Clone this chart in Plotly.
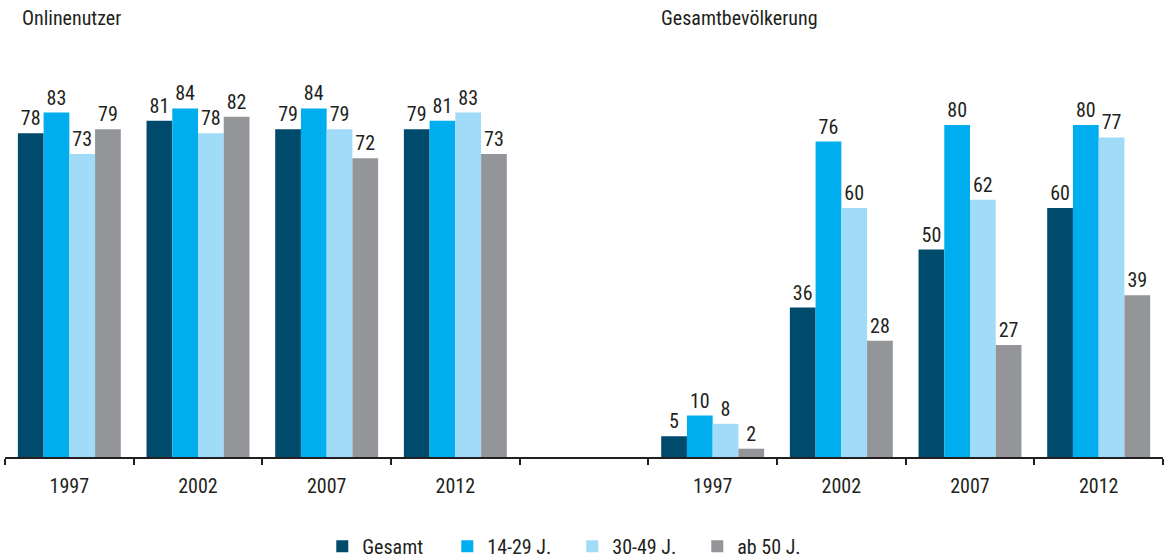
import plotly.graph_objects as go

years = ["1997", "2002", "2007", "2012"]
series_names = ["Gesamt", "14-29 J.", "30-49 J.", "ab 50 J."]
online_values = {
    "Gesamt": [78, 81, 79, 79],
    "14-29 J.": [83, 84, 84, 81],
    "30-49 J.": [73, 78, 79, 83],
    "ab 50 J.": [79, 82, 72, 73],
}
total_values = {
    "Gesamt": [5, 36, 50, 60],
    "14-29 J.": [10, 76, 80, 80],
    "30-49 J.": [8, 60, 62, 77],
    "ab 50 J.": [2, 28, 27, 39],
}
colors = {
    "Gesamt": "#004a6b",
    "14-29 J.": "#00aeef",
    "30-49 J.": "#a0dcf7",
    "ab 50 J.": "#939598",
}
group_titles = ["Onlinenutzer", "Gesamtbevölkerung"]

FONT = "Roboto Condensed, Liberation Sans Narrow, DejaVu Sans Condensed, Arial Narrow, sans-serif"
TXT = "#231f20"

cats = ["O" + y for y in years] + ["gap"] + ["G" + y for y in years]
ticktext = years + [""] + years

fig = go.Figure()
for name in series_names:
    yv = online_values[name] + [None] + total_values[name]
    fig.add_trace(go.Bar(
        name=name, x=cats, y=yv,
        marker=dict(color=colors[name], line=dict(width=10, color="rgba(255,255,255,0)")),
        text=[str(v) if v is not None else "" for v in yv],
        textposition="outside", cliponaxis=False,
        textfont=dict(family=FONT, size=20, color=TXT),
        hoverinfo="skip",
    ))

fig.update_layout(
    barmode="group", bargap=0.2, bargroupgap=0,
    width=1164, height=559,
    margin=dict(l=5, r=1, t=42, b=102, autoexpand=False),
    plot_bgcolor="white", paper_bgcolor="white",
    font=dict(family=FONT, size=20, color=TXT),
    showlegend=True,
    legend=dict(orientation="h", x=0.274, xanchor="left", y=-0.168, yanchor="top",
                font=dict(family=FONT, size=20, color=TXT),
                entrywidth=80, entrywidthmode="pixels", traceorder="normal"),
)
fig.update_xaxes(
    type="category", categoryorder="array", categoryarray=cats,
    tickvals=cats, ticktext=ticktext, tickson="boundaries",
    ticks="outside", ticklen=6, tickwidth=1.5, tickcolor=TXT,
    ticklabelstandoff=10,
    showline=True, linecolor=TXT, linewidth=2, showgrid=False,
    tickfont=dict(family=FONT, size=20, color=TXT),
)
fig.update_yaxes(range=[0, 100], visible=False, showgrid=False, zeroline=False)

fig.add_annotation(text=group_titles[0], xref="paper", yref="paper", x=0.013, y=1.0,
                   yshift=10, xanchor="left", yanchor="bottom", showarrow=False,
                   font=dict(family=FONT, size=20, color=TXT))
fig.add_annotation(text=group_titles[1], xref="paper", yref="paper", x=0.5645, y=1.0,
                   yshift=10, xanchor="left", yanchor="bottom", showarrow=False,
                   font=dict(family=FONT, size=20, color=TXT))

fig.write_html("out.html", config={"displayModeBar": False},
               post_script="document.body.style.margin='0';")
